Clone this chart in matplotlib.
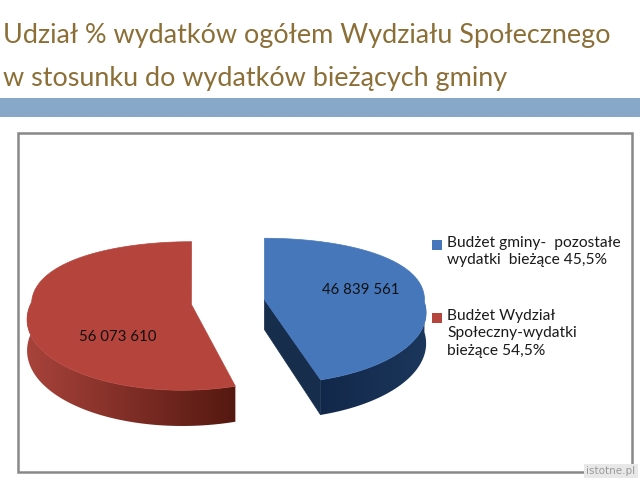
import numpy as np
import matplotlib
matplotlib.use("Agg")
import matplotlib.pyplot as plt
from matplotlib.patches import Polygon, Rectangle
from matplotlib.colors import to_rgb

# dane
title_lines = ["Udział % wydatków ogółem Wydziału Społecznego",
               "w stosunku do wydatków bieżących gminy"]
values = [46839561, 56073610]
legend_names = ["Budżet gminy-  pozostałe\nwydatki  bieżące",
                "Budżet Wydział\nSpołeczny-wydatki\nbieżące"]
top_colors = ["#4677bb", "#b5443d"]
side_colors = [("#12284a", "#1b375b"), ("#a8433b", "#541810")]
cut_color = "#162d4c"

# wygląd bryły (piksele)
X0, Y0 = 228, 302      # środek tortu
XC = 240               # punkt zbiegu w poziomie
R = 160                # promień w poziomie
A = 71.7               # skala głębi
K = 0.156              # perspektywa
D = 30                 # grubość
E = 0.23               # odsunięcie kawałków
label_uv = [(0.60, 0.14), (-0.41, -0.42)]

total = sum(values)
fracs = [v / total for v in values]


def proj(u, v, z=0.0):
    s = 1.0 + K * v
    sx = 1.0 + K * min(v, 0.0)
    return XC + (X0 + R * u - XC) / sx, Y0 + (-A * v + z) / s


fig = plt.figure(figsize=(6.4, 4.8), dpi=100)
ax = fig.add_axes([0, 0, 1, 1])
ax.set_xlim(0, 640)
ax.set_ylim(480, 0)
ax.axis("off")

# tytuł
tt = []
for i, line in enumerate(title_lines):
    tt.append(ax.text(3, 43 + 43 * i, line, fontsize=20, color="#8b6f37",
                      family="Lato", va="baseline", ha="left"))
fig.canvas.draw()
sc = 608 / tt[0].get_window_extent().width
for t in tt:
    t.set_fontsize(20 * sc)

# pasek i ramka
ax.add_patch(Rectangle((0, 98), 640, 19, facecolor="#87a8c9", edgecolor="none"))
ax.add_patch(Rectangle((18, 133), 614, 339, facecolor="white",
                       edgecolor="#888888", lw=1.8))

# kawałki tortu (zgodnie z ruchem wskazówek zegara od godz. 12)
start = 90.0
tops = []
for i, f in enumerate(fracs):
    t2 = start
    t1 = start - 360 * f
    mid = np.radians((t1 + t2) / 2)
    ou, ov = E * np.cos(mid), E * np.sin(mid)

    # ściana boczna (przód), z gradientem
    lo = max(t1, -180)
    hi = min(t2, 0)
    if hi > lo:
        ts = np.radians(np.linspace(lo, hi, 150))
        upper = [proj(ou + np.cos(a), ov + np.sin(a)) for a in ts]
        lower = [proj(ou + np.cos(a), ov + np.sin(a), D) for a in ts[::-1]]
        pts = np.array(upper + lower)
        side = Polygon(pts, closed=True, facecolor="none", edgecolor="none")
        ax.add_patch(side)
        c0, c1 = np.array(to_rgb(side_colors[i][0])), np.array(to_rgb(side_colors[i][1]))
        g = np.linspace(0, 1, 256)[None, :, None]
        img = c0 + (c1 - c0) * g
        im = ax.imshow(img, extent=(pts[:, 0].min() - 1, pts[:, 0].max() + 1,
                                    pts[:, 1].max() + 1, pts[:, 1].min() - 1),
                       aspect="auto", interpolation="bilinear", zorder=1)
        im.set_clip_path(side)

    # ściany cięcia
    for ang, sd in ((t1, -1), (t2, 1)):
        a = np.radians(ang)
        visible = np.cos(a) > 1e-6 if sd == -1 else np.cos(a) < -1e-6
        if visible:
            pts = [proj(ou, ov), proj(ou + np.cos(a), ov + np.sin(a)),
                   proj(ou + np.cos(a), ov + np.sin(a), D), proj(ou, ov, D)]
            ax.add_patch(Polygon(pts, closed=True, facecolor=cut_color,
                                 edgecolor=cut_color, lw=0.5, zorder=2))

    ts = np.radians(np.linspace(t1, t2, 200))
    tops.append([proj(ou, ov)] + [proj(ou + np.cos(a), ov + np.sin(a)) for a in ts])

    lx, ly = proj(ou + label_uv[i][0], ov + label_uv[i][1])
    ax.text(lx, ly, f"{values[i]:,}".replace(",", " "), fontsize=10.8,
            family="Lato", ha="center", va="center", color="#111111", zorder=5)
    start = t1

for i, pts in enumerate(tops):
    ax.add_patch(Polygon(pts, closed=True, facecolor=top_colors[i],
                         edgecolor=top_colors[i], lw=0.5, zorder=3))

# legenda
leg_y = [245, 318]
for i, name in enumerate(legend_names):
    pct = f"{fracs[i] * 100:.1f}".replace(".", ",")
    ax.add_patch(Rectangle((432, leg_y[i] - 5), 10, 10, facecolor=top_colors[i],
                           edgecolor="none"))
    ax.text(447, leg_y[i] - 9, f"{name} {pct}%", fontsize=11.2, family="Lato",
            ha="left", va="top", color="#1a1a1a", linespacing=1.3)

# znak wodny
ax.text(611, 471, "istotne.pl", fontsize=7.5, color="#9a9a9a", ha="center",
        va="center", bbox=dict(facecolor="#e8e8e8", edgecolor="none", pad=1.5))

ax.set_xlim(0, 640)
ax.set_ylim(480, 0)
fig.savefig("out.png", dpi=100)
